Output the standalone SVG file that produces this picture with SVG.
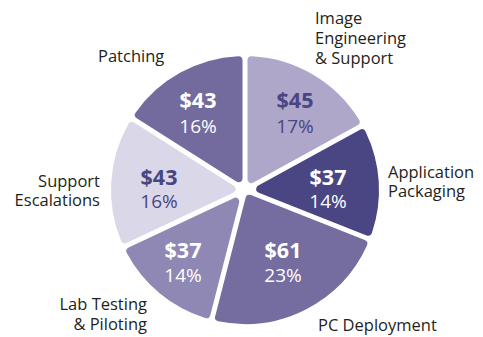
<svg xmlns="http://www.w3.org/2000/svg" width="483" height="337" viewBox="0 0 483 337">
<style>
.s{stroke-width:8;stroke-linejoin:round}
.lbl{font-family:"Open Sans","Noto Sans",sans-serif;font-size:16.5px;fill:#231f20}
.v{font-family:"Open Sans","Noto Sans",sans-serif;font-size:21.5px;font-weight:bold;text-anchor:middle}
.p{font-family:"Open Sans","Noto Sans",sans-serif;font-size:19px;text-anchor:middle}
.w{fill:#ffffff}
.d{fill:#4a4583}
</style>
<rect width="483" height="337" fill="#ffffff"/>
<g id="image-engineering">
<path class="s" fill="#aea7c9" stroke="#aea7c9" d="M251.5,179.01 L251.5,60.16 A130,130 0 0 1 355.65,121.75 Z"/>
<text class="v d" x="295" y="108">$45</text>
<text class="p d" x="295" y="133">17%</text>
<text class="lbl" x="315"><tspan x="315" y="24">Image</tspan><tspan x="315" y="44">Engineering</tspan><tspan x="315" y="64">&amp; Support</tspan></text>
</g>
<g id="application-packaging">
<path class="s" fill="#4a4583" stroke="#4a4583" d="M260.24,189.04 L361.91,133.15 A130,130 0 0 1 368.11,231.76 Z"/>
<text class="v w" x="328" y="185">$37</text>
<text class="p w" x="328" y="208">14%</text>
<text class="lbl" x="388"><tspan x="388" y="178">Application</tspan><tspan x="388" y="197">Packaging</tspan></text>
</g>
<g id="pc-deployment">
<path class="s" fill="#756ca0" stroke="#756ca0" d="M249.46,198.76 L363.33,243.84 A130,130 0 0 1 219.01,317.38 Z"/>
<text class="v w" x="283" y="258">$61</text>
<text class="p w" x="283" y="282">23%</text>
<text class="lbl" x="318" y="331">PC Deployment</text>
</g>
<g id="lab-testing">
<path class="s" fill="#8f88b4" stroke="#8f88b4" d="M235.27,201.77 L206.41,314.14 A130,130 0 0 1 130.29,251.16 Z"/>
<text class="v w" x="183" y="258">$37</text>
<text class="p w" x="183" y="282">14%</text>
<text class="lbl" text-anchor="end"><tspan x="147" y="310">Lab Testing</tspan><tspan x="147" y="330">&amp; Piloting</tspan></text>
</g>
<g id="support-escalations">
<path class="s" fill="#dad7e8" stroke="#dad7e8" d="M231.54,189.15 L124.75,239.4 A130,130 0 0 1 131.89,125.92 Z"/>
<text class="v d" x="159" y="185">$43</text>
<text class="p d" x="159" y="208">16%</text>
<text class="lbl" text-anchor="end"><tspan x="100" y="187">Support</tspan><tspan x="100" y="206">Escalations</tspan></text>
</g>
<g id="patching">
<path class="s" fill="#736a9d" stroke="#736a9d" d="M238.5,178.18 L138.85,114.94 A130,130 0 0 1 238.5,60.16 Z"/>
<text class="v w" x="198" y="108">$43</text>
<text class="p w" x="198" y="133">16%</text>
<text class="lbl" x="98" y="62">Patching</text>
</g>
<g id="connectors"/>
</svg>
